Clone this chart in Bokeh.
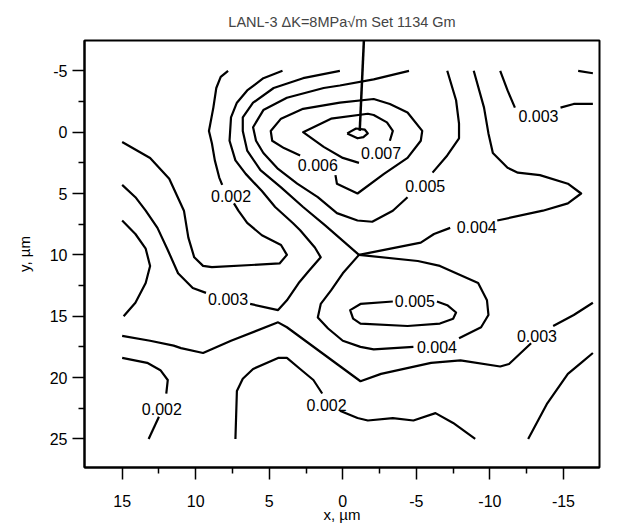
from bokeh.plotting import figure
from bokeh.models import Range1d, FixedTicker, Arrow, CustomJSTickFormatter
from bokeh.core.properties import value
from bokeh.embed import file_html
from bokeh.resources import INLINE

FONT = "Liberation Sans"

title_text = "LANL-3 \u0394K=8MPa\u221am Set 1134 Gm"
x_label = "x, \u00b5m"
y_label = "y, \u00b5m"
x_ticks = [15, 10, 5, 0, -5, -10, -15]
x_minor = [12.5, 7.5, 2.5, -2.5, -7.5, -12.5]
y_ticks = [-5, 0, 5, 10, 15, 20, 25]
y_minor = [-2.5, 2.5, 7.5, 12.5, 17.5, 22.5]

# ---- contour traces (x, y in micrometres), split where labels sit ----
# 0.002 (upper-left)
l1a_x = [7.8, 8.3, 8.6, 8.8, 9.1, 8.9, 8.7, 8.4, 8.2]
l1a_y = [-5.0, -4.5, -3.6, -2.0, -0.1, 0.9, 2.3, 3.7, 4.3]
l1b_x = [7.4, 7.1, 6.5, 5.5, 4.2, 3.8, 4.3, 8.9, 9.5, 10.1, 10.5, 10.8, 11.8, 13.1, 15.0]
l1b_y = [5.8, 6.4, 7.4, 8.4, 9.2, 10.0, 10.7, 11.0, 10.9, 10.2, 8.6, 6.4, 3.8, 2.1, 0.8]
# 0.003 (left)
l2a_x = [15.0, 14.1, 13.4, 12.6, 11.9, 11.2, 10.2, 9.3]
l2a_y = [4.3, 5.3, 6.4, 7.8, 9.6, 11.5, 12.7, 13.1]
l2b_x = [6.3, 4.4, 3.8, 3.0, 2.3, 1.5, 1.9, 2.9, 3.4, 4.6, 5.5, 6.6, 7.3, 7.7, 7.6, 7.2, 6.5, 5.4, 4.1]
l2b_y = [14.0, 14.5, 13.7, 12.3, 11.3, 10.2, 9.4, 8.0, 7.4, 6.1, 4.8, 3.4, 2.3, 0.7, -1.2, -2.4, -3.4, -4.4, -5.0]
# unlabelled, left edge
l3_x = [15.0, 14.1, 13.4, 13.1, 13.4, 14.1, 14.9]
l3_y = [7.2, 8.3, 9.5, 10.9, 12.3, 13.9, 15.0]
# 0.003 (across the lower half)
l4a_x = [15.0, 13.1, 11.5, 11.0, 9.5, 7.6, 4.4, 3.8, -1.2, -2.6, -6.0, -8.0, -10.7, -11.3, -12.8]
l4a_y = [16.6, 17.0, 17.4, 17.6, 18.0, 17.0, 15.5, 15.9, 20.3, 19.7, 18.8, 18.6, 19.1, 18.9, 17.2]
l4b_x = [-14.3, -15.7, -17.0]
l4b_y = [15.8, 14.9, 13.9]
# 0.002 (lower-left)
l5a_x = [15.0, 13.3, 12.4, 11.9, 12.0]
l5a_y = [18.4, 18.8, 19.4, 20.2, 21.3]
l5b_x = [12.5, 13.2]
l5b_y = [23.2, 25.0]
# 0.002 (lower-middle)
l6a_x = [7.3, 7.2, 6.8, 6.1, 4.4, 3.8, 2.9, 2.0, 1.4]
l6a_y = [25.0, 21.1, 20.1, 19.3, 18.4, 18.4, 19.3, 20.2, 21.3]
l6b_x = [0.2, -1.0, -1.7, -3.4, -4.8, -6.3, -7.5, -9.0]
l6b_y = [22.7, 23.3, 23.5, 23.3, 23.5, 22.9, 23.7, 25.0]
# unlabelled, lower right
l7_x = [-12.6, -13.9, -15.3, -16.2, -17.0]
l7_y = [25.0, 22.1, 19.7, 18.8, 18.0]
# 0.004 (upper branch through the saddle)
c4a_x = [0.2, 2.7, 4.7, 6.1, 6.8, 6.8, 6.5, 5.6, 4.2, 2.7, 1.2, -1.1, -5.3, -6.2, -7.3]
c4a_y = [-5.0, -4.4, -3.6, -2.4, -1.2, -0.1, 1.5, 3.1, 4.5, 6.1, 7.6, 10.0, 9.0, 8.3, 7.8]
c4b_x = [-10.5, -13.6, -15.3, -16.2, -15.3, -13.4, -11.9, -11.2, -10.2, -9.9, -9.6, -8.9]
c4b_y = [7.2, 6.4, 5.8, 5.0, 4.2, 3.5, 3.3, 2.9, 1.7, 0.1, -2.0, -5.0]
# 0.004 (lower loop from the saddle)
c4c_x = [-1.1, -5.1, -6.6, -9.2, -9.8, -9.9, -9.4, -7.9]
c4c_y = [10.0, 10.5, 10.9, 12.3, 13.7, 14.9, 15.9, 16.8]
c4d_x = [-4.8, -2.1, -1.2, 0.0, 1.0, 1.7, 1.5, 0.8, 0.0, -1.1]
c4d_y = [17.5, 17.7, 17.5, 17.0, 16.0, 15.1, 14.0, 12.9, 11.5, 10.0]
# 0.005 (upper)
c5a_x = [-4.5, -2.1, 0.2, 1.3, 3.8, 5.4, 6.1, 5.9, 5.4, 4.4, 3.1, 1.7, 0.4, -1.0, -2.0, -3.4, -4.4]
c5a_y = [-5.0, -4.3, -3.8, -3.6, -2.8, -1.8, -0.4, 0.7, 1.7, 3.0, 4.2, 5.3, 6.6, 7.2, 7.3, 6.4, 5.3]
c5b_x = [-6.1, -7.1, -7.9, -7.9, -7.7, -7.1]
c5b_y = [3.3, 1.9, 0.5, -0.7, -2.6, -5.0]
# 0.005 (lower island)
c5c_x = [-3.4, -1.2, -0.5, -0.7, -1.2, -4.4, -6.6, -7.5, -7.7, -7.1, -6.4]
c5c_y = [13.8, 14.0, 14.5, 15.2, 15.6, 15.8, 15.6, 15.2, 14.7, 14.1, 13.8]
# 0.006
c6_x = [2.9, 4.0, 4.8, 4.9, 4.2, 2.7, 0.2, -2.1, -3.2, -4.4, -5.4, -5.3, -4.4, -2.8, -1.0, 0.4, 0.5]
c6_y = [1.9, 1.3, 0.7, -0.1, -1.1, -1.9, -2.4, -2.7, -2.3, -1.6, -0.1, 0.7, 2.1, 3.4, 5.0, 4.2, 3.5]
# 0.007
c7_x = [-1.1, 0.0, 1.3, 2.7, 0.8, -1.7, -2.1, -3.0, -3.4, -3.2]
c7_y = [2.5, 2.1, 1.2, 0.0, -1.1, -1.5, -1.4, -0.8, -0.1, 0.7]
# innermost loop
c8_x = [-0.3, -0.9, -1.5, -1.7, -1.4, -1.0, -0.3]
c8_y = [0.1, -0.3, -0.2, 0.1, 0.4, 0.5, 0.1]
# 0.003 (upper right)
c3ra_x = [-10.7, -11.2, -11.7]
c3ra_y = [-5.0, -3.4, -2.0]
c3rb_x = [-14.8, -15.7, -17.0]
c3rb_y = [-2.0, -2.3, -2.3]
# small piece at the top right corner
ctr_x = [-16.0, -17.0]
ctr_y = [-5.0, -4.8]

# contour labels
label_text = ["0.002", "0.003", "0.003", "0.002", "0.002", "0.004", "0.004",
              "0.005", "0.006", "0.007", "0.005", "0.003"]
label_x = [7.6, 7.8, -13.2, 12.3, 1.1, -9.1, -6.4, -5.6, 1.7, -2.6, -4.9, -13.3]
label_y = [5.2, 13.6, 16.6, 22.6, 22.2, 7.7, 17.5, 4.4, 2.7, 1.7, 13.8, -1.3]

# pointer from the title to the peak
pointer_x = [-1.45, -1.15]
pointer_y = [-7.9, -0.1]

xs = [l1a_x, l1b_x, l2a_x, l2b_x, l3_x, l4a_x, l4b_x, l5a_x, l5b_x, l6a_x, l6b_x, l7_x,
      c4a_x, c4b_x, c4c_x, c4d_x, c5a_x, c5b_x, c5c_x, c6_x, c7_x, c8_x, c3ra_x, c3rb_x, ctr_x]
ys = [l1a_y, l1b_y, l2a_y, l2b_y, l3_y, l4a_y, l4b_y, l5a_y, l5b_y, l6a_y, l6b_y, l7_y,
      c4a_y, c4b_y, c4c_y, c4d_y, c5a_y, c5b_y, c5c_y, c6_y, c7_y, c8_y, c3ra_y, c3rb_y, ctr_y]

p = figure(width=634, height=527,
           x_range=Range1d(17.56, -17.45), y_range=Range1d(27.33, -7.47),
           output_backend="svg", toolbar_location=None,
           min_border_left=84, min_border_right=35, min_border_top=40, min_border_bottom=60,
           title=title_text)

p.background_fill_color = "white"
p.border_fill_color = "white"
p.outline_line_color = "black"
p.outline_line_width = 2
p.grid.visible = False

p.title.text_font = FONT
p.title.text_font_size = "14.5px"
p.title.text_font_style = "normal"
p.title.align = "center"
p.title.standoff = 22

p.multi_line(xs=xs, ys=ys, line_color="black", line_width=2.2, line_join="round")
p.text(x=label_x, y=label_y, text=label_text, text_font=value(FONT),
       text_font_size="16px", text_align="center", text_baseline="middle",
       text_color="black")

p.add_layout(Arrow(end=None, x_start=pointer_x[0], y_start=pointer_y[0],
                   x_end=pointer_x[1], y_end=pointer_y[1],
                   line_width=2.5, line_color="black"))

plain = CustomJSTickFormatter(code="return String(tick);")

for ax, ticks, minor, lab in ((p.xaxis[0], x_ticks, x_minor, x_label),
                              (p.yaxis[0], y_ticks, y_minor, y_label)):
    ax.ticker = FixedTicker(ticks=ticks, minor_ticks=minor)
    ax.formatter = plain
    ax.axis_label = lab
    ax.axis_line_width = 2
    ax.axis_line_color = "black"
    ax.major_tick_line_width = 1.5
    ax.minor_tick_line_width = 1.5
    ax.major_tick_out = 12
    ax.major_tick_in = 0
    ax.minor_tick_out = 6
    ax.minor_tick_in = 0
    ax.major_label_text_font = FONT
    ax.major_label_text_font_size = "16px"
    ax.major_label_text_color = "black"
    ax.axis_label_text_font = FONT
    ax.axis_label_text_font_size = "15px"
    ax.axis_label_text_font_style = "normal"
    ax.axis_label_text_color = "black"

p.xaxis.major_label_standoff = 15
p.xaxis.axis_label_standoff = -4
p.yaxis.major_label_standoff = 5
p.yaxis.axis_label_standoff = 14

open("out.html", "w").write(file_html(p, INLINE))
